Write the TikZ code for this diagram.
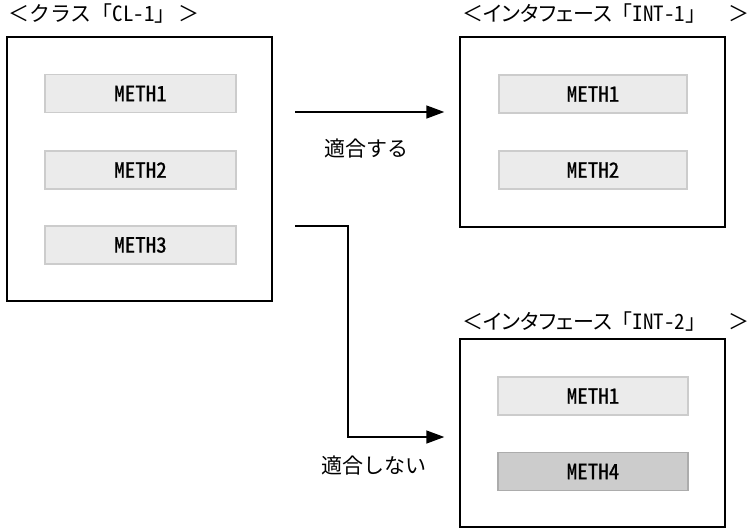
\documentclass[tikz,border=0pt]{standalone}
\usepackage{fontspec}
\setmainfont{Noto Sans CJK JP}
\newfontfamily\hw[RawFeature=+hwid]{Noto Sans CJK JP}
\newfontfamily\hwb[RawFeature=+hwid,FakeBold=0.8]{Noto Sans CJK JP}
\newfontfamily\pr[RawFeature=+palt]{Noto Sans CJK JP}
\usetikzlibrary{arrows.meta}
\definecolor{mfill}{RGB}{235,235,235}
\definecolor{mline}{RGB}{204,204,204}
\definecolor{dfill}{RGB}{204,204,204}
\definecolor{dline}{RGB}{172,172,172}
\tikzset{
  outerbox/.style={draw=black, line width=1.4pt, fill=white, inner sep=0pt},
  methbox/.style={draw=mline, fill=mfill, line width=1.2pt, inner sep=0pt,
    minimum height=38pt, font=\hwb\fontsize{21}{23}\selectfont},
  methdark/.style={methbox, draw=dline, fill=dfill},
  titletext/.style={anchor=west, inner sep=0pt, font=\fontsize{21}{23}\selectfont},
  labeltext/.style={inner sep=0pt, font=\fontsize{21}{23}\selectfont},
  conn/.style={line width=1.4pt, -{Triangle[length=18pt,width=13pt]}}
}
\begin{document}
\begin{tikzpicture}[x=1pt,y=-1pt]
\useasboundingbox (0,0) rectangle (752,528);
% titles
\node[titletext] (t1) at (8,14) {\makebox[191pt][l]{＜クラス「{\hw CL-1}」\hfill＞}};
\node[titletext] (t2) at (462,14) {\makebox[287pt][l]{＜{\pr インタフェース}「{\hw INT-1}」\hfill＞}};
\node[titletext] (t3) at (462,322) {\makebox[287pt][l]{＜{\pr インタフェース}「{\hw INT-2}」\hfill＞}};
% outer boxes
\node[outerbox, minimum width=265pt, minimum height=264pt] (cl1) at (139.5,169) {};
\node[outerbox, minimum width=265pt, minimum height=190pt] (int1) at (592.5,132) {};
\node[outerbox, minimum width=265pt, minimum height=188pt] (int2) at (592.5,433) {};
% methods
\node[methbox, minimum width=191pt] (c1) at (140.5,93.5) {METH1};
\node[methbox, minimum width=191pt] (c2) at (140.5,170) {METH2};
\node[methbox, minimum width=191pt] (c3) at (140.5,245) {METH3};
\node[methbox, minimum width=188pt] (i1) at (593,94) {METH1};
\node[methbox, minimum width=188pt] (i2) at (593,170) {METH2};
\node[methbox, minimum width=190pt] (j1) at (593,396) {METH1};
\node[methdark, minimum width=190pt] (j4) at (593,471.5) {METH4};
% connectors
\coordinate (a1s) at (295,112);
\coordinate (a2s) at (295,226);
\coordinate (a2b) at (348,437);
\draw[conn, shorten >=15pt] (a1s) -- (a1s -| int1.west);
\draw[conn, shorten >=15pt] (a2s) -| (a2b) -- (a2b -| int2.west);
% labels
\node[labeltext] (l1) at (366,149) {適合する};
\node[labeltext] (l2) at (374,466) {適合しない};
\end{tikzpicture}
\end{document}
